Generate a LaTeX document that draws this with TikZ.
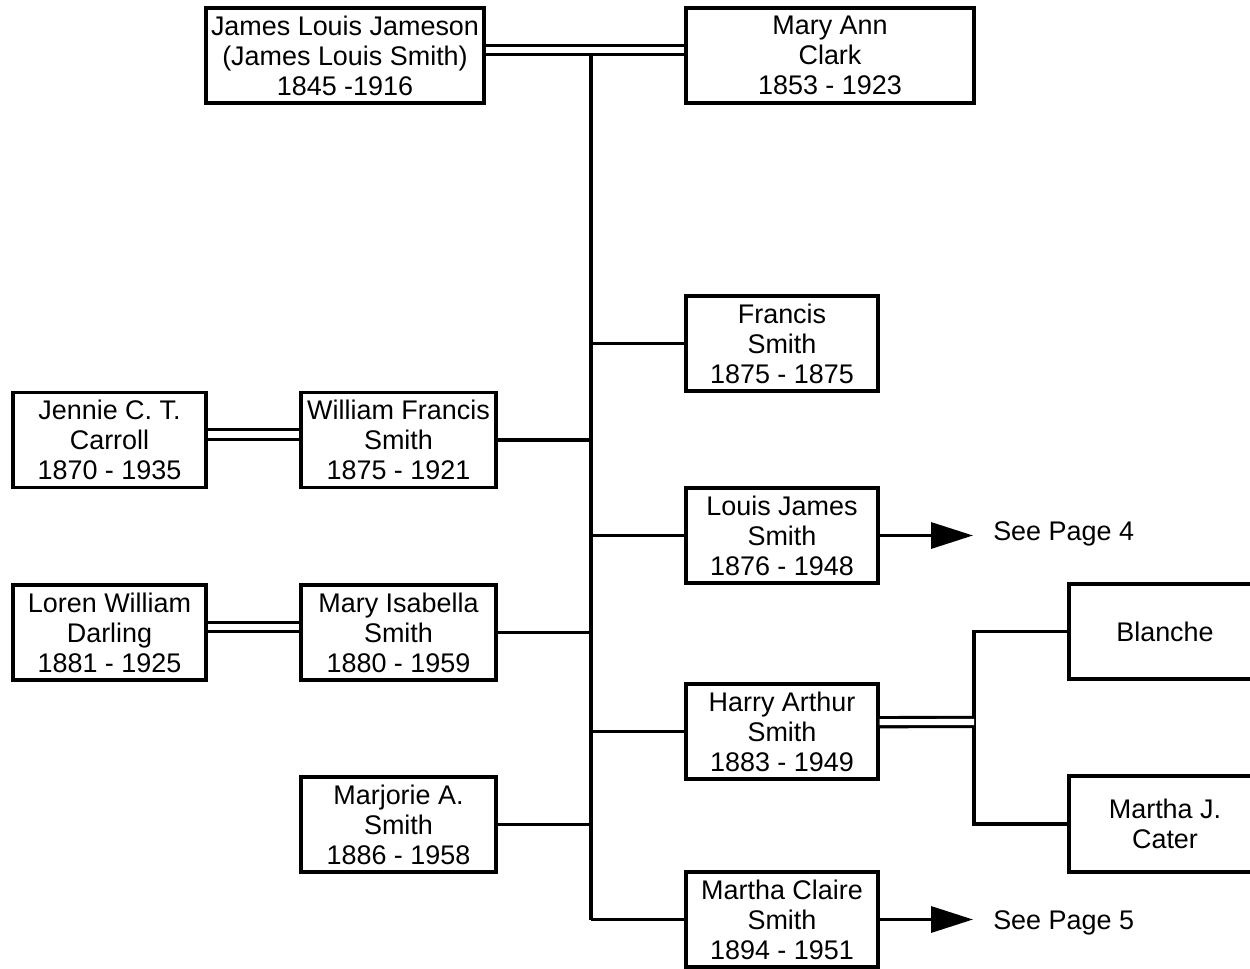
\documentclass[tikz,border=0pt]{standalone}
\usepackage{fontspec}
\setmainfont{Liberation Sans}
\usetikzlibrary{arrows.meta}
\begin{document}
\begin{tikzpicture}[x=0.75pt,y=-0.75pt,
  person/.style={draw,line width=2.5pt,rectangle,inner sep=0pt,align=center,
    minimum width={192*0.75pt},minimum height={95*0.75pt},
    font=\fontsize{20.2pt}{22.5pt}\selectfont},
  conn/.style={line width=2.5pt},
  dbl/.style={double,line width=2.3pt,double distance=4.6pt},
  seearrow/.style={line width=2.5pt,-{Triangle[length=31.5pt,width=19.5pt]}},
  seelabel/.style={anchor=west,inner sep=0pt,font=\fontsize{20.2pt}{22.5pt}\selectfont}]
\useasboundingbox (0,0) rectangle (1250,969);
\clip (0,0) rectangle (1250,969);

% nodes
\node[person,minimum width={278*0.75pt}] (jlj) at (345,55.5) {James Louis Jameson\\(James Louis Smith)\\1845 -1916};
\node[person,minimum width={288*0.75pt}] (mac) at (830,55.5) {Mary Ann\\Clark\\1853 - 1923};
\node[person] (fs) at (782,343.5) {Francis\\Smith\\1875 - 1875};
\node[person,minimum width={195*0.75pt}] (wfs) at (398.5,440) {William Francis\\Smith\\1875 - 1921};
\node[person,minimum width={193*0.75pt}] (jct) at (109.5,440) {Jennie C. T.\\Carroll\\1870 - 1935};
\node[person] (ljs) at (782,535.5) {Louis James\\Smith\\1876 - 1948};
\node[person,minimum width={193*0.75pt}] (lwd) at (109.5,632.5) {Loren William\\Darling\\1881 - 1925};
\node[person,minimum width={195*0.75pt}] (mis) at (398.5,632.5) {Mary Isabella\\Smith\\1880 - 1959};
\node[person] (has) at (782,731.5) {Harry Arthur\\Smith\\1883 - 1949};
\node[person] (bl) at (1165,631.5) {Blanche};
\node[person,minimum height={96*0.75pt}] (mjc) at (1165,824) {Martha J.\\Cater};
\node[person,minimum width={195*0.75pt}] (mas) at (398.5,824.5) {Marjorie A.\\Smith\\1886 - 1958};
\node[person] (mcs) at (782,919.5) {Martha Claire\\Smith\\1894 - 1951};

\node[seelabel] (p4) at (993,534) {See Page 4};
\node[seelabel] (p5) at (993,923) {See Page 5};

% trunk
\coordinate (ttop) at (591,55);
\coordinate (tbot) at (591,920);
\draw[conn] (ttop) -- (tbot);

% marriage lines
\draw[dbl] ([yshift=3.9pt]jlj.east) -- ([yshift=3.9pt]mac.west);
\draw[dbl] ([yshift=4.1pt]jct.east) -- ([yshift=4.1pt]wfs.west);
\draw[dbl] ([yshift=4.1pt]lwd.east) -- ([yshift=4.1pt]mis.west);
\coordinate (hv) at (974,722);
\draw[conn] (bl.west) -- (bl.west -| hv) -- (mjc.west -| hv) -- (mjc.west);
\draw[dbl] ([yshift=7pt]has.east) -- (hv);

% branches
\draw[conn] (fs.west) -- (fs.west -| ttop);
\draw[conn] (wfs.east) -- (wfs.east -| ttop);
\draw[conn] (ljs.west) -- (ljs.west -| ttop);
\draw[conn] (mis.east) -- (mis.east -| ttop);
\draw[conn] (has.west) -- (has.west -| ttop);
\draw[conn] (mas.east) -- (mas.east -| ttop);
\draw[conn] (mcs.west) -- (mcs.west -| ttop);

% arrows
\coordinate (a4) at (973,535.5);
\coordinate (a5) at (973,919.5);
\draw[seearrow] (ljs.east) -- (a4);
\draw[seearrow] (mcs.east) -- (a5);
\end{tikzpicture}
\end{document}
